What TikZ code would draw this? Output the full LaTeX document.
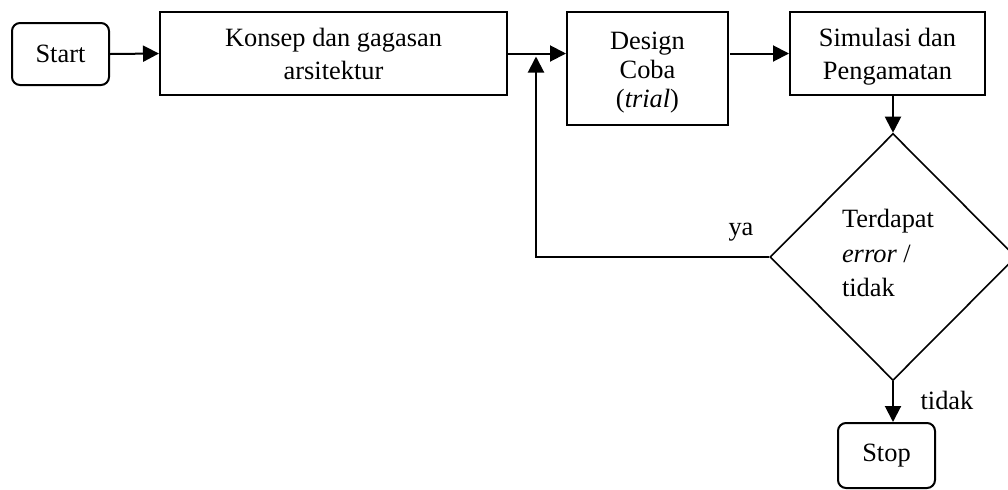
\documentclass[tikz,border=0pt]{standalone}
\usepackage{fontspec}
\setmainfont{Liberation Serif}
\usetikzlibrary{arrows.meta,shapes.geometric}
\tikzset{
  every node/.style={font=\fontsize{13.2}{16}\selectfont},
  kotak/.style={draw,line width=1pt,inner sep=0pt,align=center},
  terminal/.style={kotak,rounded corners=4pt,minimum width=48.5pt,minimum height=31pt},
  keputusan/.style={draw,diamond,line width=0.8pt,inner sep=0pt,minimum width=123pt,minimum height=123.5pt},
  panah/.style={-{Triangle[length=8pt,width=8pt]},line width=1pt}
}
\begin{document}
\begin{tikzpicture}[line cap=butt,line join=miter,x=0.5pt,y=-0.5pt]
\useasboundingbox (0,0) rectangle (1008,489);
\node [terminal] (start) at (60.5,54) {Start};
\node [kotak,minimum width=173.5pt,minimum height=41.5pt,font=\fontsize{13.2}{16.5}\selectfont] (konsep) at (333.5,53.5) {Konsep dan gagasan\\arsitektur};
\node [kotak,minimum width=80.5pt,minimum height=56.5pt] (design) at (647.5,68.5) {};
\node [align=center,font=\fontsize{13.2}{14.7}\selectfont] (designteks) at (647.5,72.5) {Design\\Coba\\(\textit{trial})};
\node [kotak,minimum width=97.5pt,minimum height=41.5pt] (simulasi) at (887.5,53.5) {};
\node [align=center,font=\fontsize{13.2}{16.3}\selectfont] (simulasiteks) at (887.5,56.5) {Simulasi dan\\Pengamatan};
\node [keputusan] (cek) at (893,257) {};
\node [align=left,font=\fontsize{13.2}{17.2}\selectfont] (cekteks) at (888,253) {Terdapat\\\textit{error} /\\tidak};
\node [terminal,minimum height=32.5pt] (stop) at (886.5,455.5) {Stop};
\coordinate (gabung) at (536,53.5);
\node (ya) at (741,232) {ya};
\node (tidak) at (947,400) {tidak};
\draw [panah] (start.east) -- (konsep.west);
\draw [panah] (konsep.east) -- (konsep.east -| design.west);
\draw [panah] (simulasi.west -| design.east) ++(1,0) -- (simulasi.west);
\draw [panah] (simulasi.south -| cek.north) -- (cek.north);
\draw [panah] (cek.west) -- (cek.west -| gabung) -- ([yshift=-1.5pt]gabung);
\draw [panah] (cek.south) -- (cek.south |- stop.north);
\end{tikzpicture}
\end{document}
